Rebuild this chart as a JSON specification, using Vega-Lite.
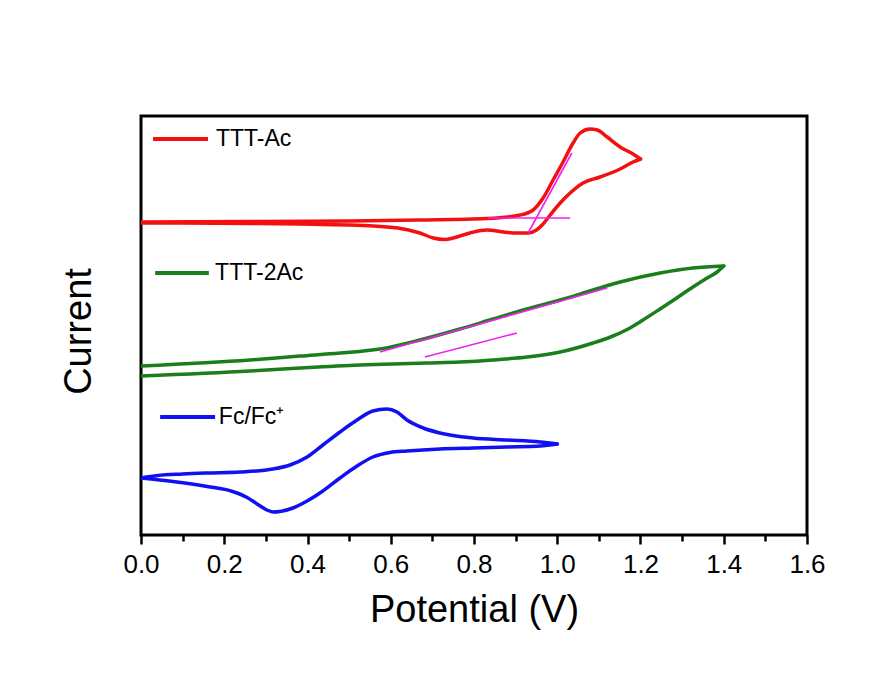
{
  "$schema": "https://vega.github.io/schema/vega-lite/v6.json",
  "autosize": "none",
  "width": 666,
  "height": 419,
  "padding": {"left": 141, "top": 116, "right": 73, "bottom": 149},
  "background": "white",
  "config": {
    "font": "Liberation Sans",
    "view": {"stroke": "black", "strokeWidth": 3},
    "axis": {"grid": false, "domain": false}
  },
  "datasets": {
    "cv": [
      {"series": "TTT-Ac", "sweep": "anodic", "potential": 0.000, "current": 313},
      {"series": "TTT-Ac", "sweep": "anodic", "potential": 0.262, "current": 313.5},
      {"series": "TTT-Ac", "sweep": "anodic", "potential": 0.502, "current": 314},
      {"series": "TTT-Ac", "sweep": "anodic", "potential": 0.670, "current": 315},
      {"series": "TTT-Ac", "sweep": "anodic", "potential": 0.831, "current": 316.5},
      {"series": "TTT-Ac", "sweep": "anodic", "potential": 0.911, "current": 320},
      {"series": "TTT-Ac", "sweep": "anodic", "potential": 0.942, "current": 325},
      {"series": "TTT-Ac", "sweep": "anodic", "potential": 0.966, "current": 337},
      {"series": "TTT-Ac", "sweep": "anodic", "potential": 0.990, "current": 355},
      {"series": "TTT-Ac", "sweep": "anodic", "potential": 1.014, "current": 373},
      {"series": "TTT-Ac", "sweep": "anodic", "potential": 1.038, "current": 392},
      {"series": "TTT-Ac", "sweep": "anodic", "potential": 1.055, "current": 402},
      {"series": "TTT-Ac", "sweep": "anodic", "potential": 1.079, "current": 406},
      {"series": "TTT-Ac", "sweep": "anodic", "potential": 1.096, "current": 405},
      {"series": "TTT-Ac", "sweep": "anodic", "potential": 1.120, "current": 398},
      {"series": "TTT-Ac", "sweep": "anodic", "potential": 1.151, "current": 388},
      {"series": "TTT-Ac", "sweep": "anodic", "potential": 1.182, "current": 381},
      {"series": "TTT-Ac", "sweep": "anodic", "potential": 1.200, "current": 376},
      {"series": "TTT-Ac", "sweep": "cathodic", "potential": 1.200, "current": 376},
      {"series": "TTT-Ac", "sweep": "cathodic", "potential": 1.182, "current": 373},
      {"series": "TTT-Ac", "sweep": "cathodic", "potential": 1.151, "current": 366},
      {"series": "TTT-Ac", "sweep": "cathodic", "potential": 1.103, "current": 358},
      {"series": "TTT-Ac", "sweep": "cathodic", "potential": 1.062, "current": 352},
      {"series": "TTT-Ac", "sweep": "cathodic", "potential": 1.031, "current": 342},
      {"series": "TTT-Ac", "sweep": "cathodic", "potential": 1.007, "current": 332},
      {"series": "TTT-Ac", "sweep": "cathodic", "potential": 0.983, "current": 320},
      {"series": "TTT-Ac", "sweep": "cathodic", "potential": 0.966, "current": 311},
      {"series": "TTT-Ac", "sweep": "cathodic", "potential": 0.950, "current": 305},
      {"series": "TTT-Ac", "sweep": "cathodic", "potential": 0.930, "current": 302},
      {"series": "TTT-Ac", "sweep": "cathodic", "potential": 0.905, "current": 302},
      {"series": "TTT-Ac", "sweep": "cathodic", "potential": 0.870, "current": 303},
      {"series": "TTT-Ac", "sweep": "cathodic", "potential": 0.831, "current": 305},
      {"series": "TTT-Ac", "sweep": "cathodic", "potential": 0.790, "current": 302},
      {"series": "TTT-Ac", "sweep": "cathodic", "potential": 0.750, "current": 297},
      {"series": "TTT-Ac", "sweep": "cathodic", "potential": 0.730, "current": 295.5},
      {"series": "TTT-Ac", "sweep": "cathodic", "potential": 0.702, "current": 297},
      {"series": "TTT-Ac", "sweep": "cathodic", "potential": 0.670, "current": 302},
      {"series": "TTT-Ac", "sweep": "cathodic", "potential": 0.617, "current": 307},
      {"series": "TTT-Ac", "sweep": "cathodic", "potential": 0.502, "current": 310},
      {"series": "TTT-Ac", "sweep": "cathodic", "potential": 0.382, "current": 311},
      {"series": "TTT-Ac", "sweep": "cathodic", "potential": 0.262, "current": 311.5},
      {"series": "TTT-Ac", "sweep": "cathodic", "potential": 0.000, "current": 312},

      {"series": "TTT-2Ac", "sweep": "anodic", "potential": 0.000, "current": 169},
      {"series": "TTT-2Ac", "sweep": "anodic", "potential": 0.262, "current": 175},
      {"series": "TTT-2Ac", "sweep": "anodic", "potential": 0.382, "current": 179},
      {"series": "TTT-2Ac", "sweep": "anodic", "potential": 0.478, "current": 182},
      {"series": "TTT-2Ac", "sweep": "anodic", "potential": 0.574, "current": 186},
      {"series": "TTT-2Ac", "sweep": "anodic", "potential": 0.670, "current": 195},
      {"series": "TTT-2Ac", "sweep": "anodic", "potential": 0.766, "current": 206},
      {"series": "TTT-2Ac", "sweep": "anodic", "potential": 0.846, "current": 216},
      {"series": "TTT-2Ac", "sweep": "anodic", "potential": 0.927, "current": 226},
      {"series": "TTT-2Ac", "sweep": "anodic", "potential": 1.007, "current": 235},
      {"series": "TTT-2Ac", "sweep": "anodic", "potential": 1.086, "current": 245},
      {"series": "TTT-2Ac", "sweep": "anodic", "potential": 1.151, "current": 253},
      {"series": "TTT-2Ac", "sweep": "anodic", "potential": 1.247, "current": 262},
      {"series": "TTT-2Ac", "sweep": "anodic", "potential": 1.326, "current": 267},
      {"series": "TTT-2Ac", "sweep": "anodic", "potential": 1.400, "current": 269},
      {"series": "TTT-2Ac", "sweep": "cathodic", "potential": 1.400, "current": 269},
      {"series": "TTT-2Ac", "sweep": "cathodic", "potential": 1.384, "current": 263},
      {"series": "TTT-2Ac", "sweep": "cathodic", "potential": 1.360, "current": 257},
      {"series": "TTT-2Ac", "sweep": "cathodic", "potential": 1.326, "current": 248},
      {"series": "TTT-2Ac", "sweep": "cathodic", "potential": 1.287, "current": 237},
      {"series": "TTT-2Ac", "sweep": "cathodic", "potential": 1.247, "current": 226},
      {"series": "TTT-2Ac", "sweep": "cathodic", "potential": 1.206, "current": 215},
      {"series": "TTT-2Ac", "sweep": "cathodic", "potential": 1.168, "current": 205.5},
      {"series": "TTT-2Ac", "sweep": "cathodic", "potential": 1.128, "current": 198},
      {"series": "TTT-2Ac", "sweep": "cathodic", "potential": 1.086, "current": 192},
      {"series": "TTT-2Ac", "sweep": "cathodic", "potential": 1.007, "current": 183},
      {"series": "TTT-2Ac", "sweep": "cathodic", "potential": 0.927, "current": 178},
      {"series": "TTT-2Ac", "sweep": "cathodic", "potential": 0.846, "current": 175},
      {"series": "TTT-2Ac", "sweep": "cathodic", "potential": 0.766, "current": 173},
      {"series": "TTT-2Ac", "sweep": "cathodic", "potential": 0.687, "current": 172},
      {"series": "TTT-2Ac", "sweep": "cathodic", "potential": 0.605, "current": 171},
      {"series": "TTT-2Ac", "sweep": "cathodic", "potential": 0.526, "current": 170},
      {"series": "TTT-2Ac", "sweep": "cathodic", "potential": 0.382, "current": 167},
      {"series": "TTT-2Ac", "sweep": "cathodic", "potential": 0.262, "current": 164},
      {"series": "TTT-2Ac", "sweep": "cathodic", "potential": 0.000, "current": 159},

      {"series": "Fc/Fc⁺", "sweep": "anodic", "potential": 0.000, "current": 57},
      {"series": "Fc/Fc⁺", "sweep": "anodic", "potential": 0.040, "current": 59.5},
      {"series": "Fc/Fc⁺", "sweep": "anodic", "potential": 0.100, "current": 61},
      {"series": "Fc/Fc⁺", "sweep": "anodic", "potential": 0.159, "current": 62},
      {"series": "Fc/Fc⁺", "sweep": "anodic", "potential": 0.238, "current": 63},
      {"series": "Fc/Fc⁺", "sweep": "anodic", "potential": 0.317, "current": 66},
      {"series": "Fc/Fc⁺", "sweep": "anodic", "potential": 0.358, "current": 70},
      {"series": "Fc/Fc⁺", "sweep": "anodic", "potential": 0.399, "current": 78},
      {"series": "Fc/Fc⁺", "sweep": "anodic", "potential": 0.437, "current": 90},
      {"series": "Fc/Fc⁺", "sweep": "anodic", "potential": 0.478, "current": 103},
      {"series": "Fc/Fc⁺", "sweep": "anodic", "potential": 0.519, "current": 115},
      {"series": "Fc/Fc⁺", "sweep": "anodic", "potential": 0.557, "current": 124},
      {"series": "Fc/Fc⁺", "sweep": "anodic", "potential": 0.591, "current": 126},
      {"series": "Fc/Fc⁺", "sweep": "anodic", "potential": 0.615, "current": 123},
      {"series": "Fc/Fc⁺", "sweep": "anodic", "potential": 0.639, "current": 115},
      {"series": "Fc/Fc⁺", "sweep": "anodic", "potential": 0.678, "current": 107},
      {"series": "Fc/Fc⁺", "sweep": "anodic", "potential": 0.718, "current": 102},
      {"series": "Fc/Fc⁺", "sweep": "anodic", "potential": 0.798, "current": 97},
      {"series": "Fc/Fc⁺", "sweep": "anodic", "potential": 0.879, "current": 95},
      {"series": "Fc/Fc⁺", "sweep": "anodic", "potential": 0.959, "current": 93},
      {"series": "Fc/Fc⁺", "sweep": "anodic", "potential": 1.000, "current": 91},
      {"series": "Fc/Fc⁺", "sweep": "cathodic", "potential": 1.000, "current": 91},
      {"series": "Fc/Fc⁺", "sweep": "cathodic", "potential": 0.959, "current": 89},
      {"series": "Fc/Fc⁺", "sweep": "cathodic", "potential": 0.879, "current": 88},
      {"series": "Fc/Fc⁺", "sweep": "cathodic", "potential": 0.798, "current": 87},
      {"series": "Fc/Fc⁺", "sweep": "cathodic", "potential": 0.718, "current": 86},
      {"series": "Fc/Fc⁺", "sweep": "cathodic", "potential": 0.639, "current": 84},
      {"series": "Fc/Fc⁺", "sweep": "cathodic", "potential": 0.598, "current": 82.5},
      {"series": "Fc/Fc⁺", "sweep": "cathodic", "potential": 0.557, "current": 78},
      {"series": "Fc/Fc⁺", "sweep": "cathodic", "potential": 0.519, "current": 69},
      {"series": "Fc/Fc⁺", "sweep": "cathodic", "potential": 0.478, "current": 57},
      {"series": "Fc/Fc⁺", "sweep": "cathodic", "potential": 0.437, "current": 44},
      {"series": "Fc/Fc⁺", "sweep": "cathodic", "potential": 0.399, "current": 34},
      {"series": "Fc/Fc⁺", "sweep": "cathodic", "potential": 0.365, "current": 27},
      {"series": "Fc/Fc⁺", "sweep": "cathodic", "potential": 0.334, "current": 23.5},
      {"series": "Fc/Fc⁺", "sweep": "cathodic", "potential": 0.317, "current": 23},
      {"series": "Fc/Fc⁺", "sweep": "cathodic", "potential": 0.300, "current": 25.5},
      {"series": "Fc/Fc⁺", "sweep": "cathodic", "potential": 0.279, "current": 31},
      {"series": "Fc/Fc⁺", "sweep": "cathodic", "potential": 0.255, "current": 37.5},
      {"series": "Fc/Fc⁺", "sweep": "cathodic", "potential": 0.220, "current": 43.5},
      {"series": "Fc/Fc⁺", "sweep": "cathodic", "potential": 0.159, "current": 48.5},
      {"series": "Fc/Fc⁺", "sweep": "cathodic", "potential": 0.077, "current": 53.5},
      {"series": "Fc/Fc⁺", "sweep": "cathodic", "potential": 0.000, "current": 57}
    ],
    "tangents": [
      {"curve": "TTT-Ac baseline", "potential": 0.834, "current": 317, "potential2": 1.031, "current2": 317},
      {"curve": "TTT-Ac rise", "potential": 0.930, "current": 302, "potential2": 1.035, "current2": 382},
      {"curve": "TTT-2Ac rise", "potential": 0.574, "current": 183, "potential2": 1.120, "current2": 247},
      {"curve": "TTT-2Ac baseline", "potential": 0.682, "current": 178, "potential2": 0.903, "current2": 202}
    ],
    "keys": [
      {"series": "TTT-Ac", "start": 0.029, "end": 0.161, "label_at": 0.180, "level": 396},
      {"series": "TTT-2Ac", "start": 0.034, "end": 0.163, "label_at": 0.178, "level": 262},
      {"series": "Fc/Fc⁺", "start": 0.046, "end": 0.178, "label_at": 0.187, "level": 118}
    ]
  },
  "layer": [
    {
      "data": {"name": "cv"},
      "mark": {"type": "line", "strokeWidth": 3.5, "interpolate": "monotone", "strokeCap": "round", "strokeJoin": "round", "clip": true},
      "encoding": {
        "x": {
          "field": "potential", "type": "quantitative",
          "scale": {"domain": [0, 1.6], "nice": false, "zero": false},
          "axis": {
            "title": "Potential (V)",
            "titleFontSize": 38, "titleFontWeight": "normal", "titleColor": "black",
            "titleY": 86, "titleBaseline": "alphabetic",
            "values": [0, 0.1, 0.2, 0.3, 0.4, 0.5, 0.6, 0.7, 0.8, 0.9, 1.0, 1.1, 1.2, 1.3, 1.4, 1.5, 1.6],
            "labelExpr": "round(datum.value * 10) % 2 == 0 ? format(datum.value, '.1f') : ''",
            "labelFontSize": 26, "labelColor": "black", "labelPadding": 7,
            "labelFlush": false, "labelOverlap": false,
            "tickColor": "black", "tickWidth": 2.5,
            "tickSize": {"condition": {"test": "round(datum.value * 10) % 2 == 0", "value": 9}, "value": 6}
          }
        },
        "y": {
          "field": "current", "type": "quantitative",
          "scale": {"domain": [0, 419], "nice": false, "zero": false},
          "axis": {
            "title": "Current",
            "titleFontSize": 38, "titleFontWeight": "normal", "titleColor": "black",
            "titleX": -51, "titleY": 215, "titleAngle": -90,
            "titleBaseline": "alphabetic", "titleAlign": "center",
            "ticks": false, "labels": false
          }
        },
        "color": {
          "field": "series", "type": "nominal",
          "scale": {"domain": ["TTT-Ac", "TTT-2Ac", "Fc/Fc⁺"], "range": ["#F21010", "#1B7D1B", "#1010F0"]},
          "legend": null
        },
        "detail": {"field": "sweep", "type": "nominal"}
      }
    },
    {
      "data": {"name": "tangents"},
      "mark": {"type": "rule", "color": "#F020F0", "strokeWidth": 1.6},
      "encoding": {
        "x": {"field": "potential", "type": "quantitative"},
        "y": {"field": "current", "type": "quantitative"},
        "x2": {"field": "potential2"},
        "y2": {"field": "current2"}
      }
    },
    {
      "data": {"name": "keys"},
      "mark": {"type": "rule", "strokeWidth": 4},
      "encoding": {
        "x": {"field": "start", "type": "quantitative"},
        "x2": {"field": "end"},
        "y": {"field": "level", "type": "quantitative"},
        "color": {"field": "series", "type": "nominal", "legend": null}
      }
    },
    {
      "data": {"name": "keys"},
      "mark": {"type": "text", "align": "left", "baseline": "middle", "fontSize": 23, "color": "black"},
      "encoding": {
        "x": {"field": "label_at", "type": "quantitative"},
        "y": {"field": "level", "type": "quantitative"},
        "text": {"field": "series", "type": "nominal"}
      }
    }
  ]
}
